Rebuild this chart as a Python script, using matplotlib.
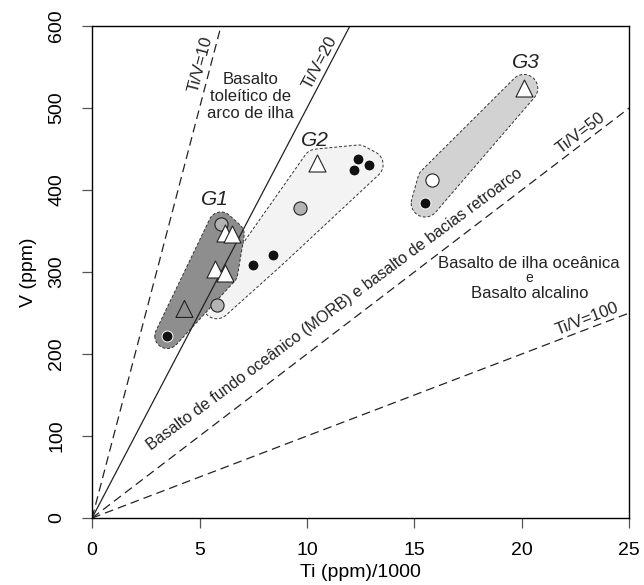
import numpy as np
import matplotlib
matplotlib.use("Agg")
import matplotlib.pyplot as plt
from matplotlib.patches import Polygon

plt.rcParams['font.family'] = ['Liberation Sans', 'DejaVu Sans']

# samples: Ti (ppm)/1000, V (ppm), symbol kind and group
ti = [3.5, 4.3, 5.7, 6.2, 6.2, 6.5, 6.0,
      5.8, 7.5, 8.4, 9.7, 10.45, 12.2, 12.4, 12.9,
      15.5, 15.8, 20.1]
v = [222, 255, 304, 299, 348, 346, 358,
     260, 309, 321, 378, 433, 425, 438, 431,
     384, 412, 524]
kind = ['black', 'open_tri', 'tri', 'tri', 'tri', 'tri', 'gray',
        'gray', 'black', 'black', 'gray', 'tri', 'black', 'black', 'black',
        'black', 'white', 'tri']
group = ['G1'] * 7 + ['G2'] * 8 + ['G3'] * 3

# Ti/V discriminant lines and where their labels sit (Ti along the line)
ratios = [10, 20, 50, 100]
ratio_label_ti = [5.5, 11.0, 23.0, 23.2]

group_names = ['G1', 'G2', 'G3']
group_label_ti = [5.7, 10.35, 20.2]
group_label_v = [388, 460, 555]

# styles
marker_style = {
    'black': dict(marker='o', s=62, facecolor='#111111', edgecolor='white', linewidth=0.7),
    'gray': dict(marker='o', s=90, facecolor='#b3b3b3', edgecolor='#222222', linewidth=0.8),
    'white': dict(marker='o', s=90, facecolor='white', edgecolor='#222222', linewidth=0.8),
    'tri': dict(marker='^', s=150, facecolor='white', edgecolor='#222222', linewidth=0.8),
    'open_tri': dict(marker='^', s=150, facecolor='none', edgecolor='#222222', linewidth=0.8),
}
group_fill = {'G1': '#8e8e8e', 'G2': '#f3f3f3', 'G3': '#d2d2d2'}
group_pad = {'G1': 9, 'G2': 10, 'G3': 10}   # points


def convex_hull(points):
    """Monotone chain hull of a 2D point cloud"""
    pts = sorted(map(tuple, points))

    def cross(o, a, b):
        return (a[0] - o[0]) * (b[1] - o[1]) - (a[1] - o[1]) * (b[0] - o[0])

    lower = []
    for p in pts:
        while len(lower) >= 2 and cross(lower[-2], lower[-1], p) <= 0:
            lower.pop()
        lower.append(p)
    upper = []
    for p in reversed(pts):
        while len(upper) >= 2 and cross(upper[-2], upper[-1], p) <= 0:
            upper.pop()
        upper.append(p)
    return np.array(lower[:-1] + upper[:-1])


def envelope(ax, x, y, pad_pt):
    """Rounded outline around a group of points, padded in screen space"""
    pad_px = pad_pt * ax.figure.dpi / 72
    pts = ax.transData.transform(np.column_stack([x, y]))
    ang = np.linspace(0, 2 * np.pi, 60, endpoint=False)
    ring = np.column_stack([np.cos(ang), np.sin(ang)]) * pad_px
    cloud = (pts[:, None, :] + ring[None, :, :]).reshape(-1, 2)
    return ax.transData.inverted().transform(convex_hull(cloud))


def screen_angle(ax, slope):
    """Angle on screen of a line with the given data slope"""
    p0, p1 = ax.transData.transform([(0, 0), (1, slope)])
    return np.degrees(np.arctan2(p1[1] - p0[1], p1[0] - p0[0]))


fig = plt.figure(figsize=(6.44, 5.85), dpi=100)
ax = fig.add_axes([0.143, 0.1145, 0.834, 0.841])
ax.set_xlim(0, 25)
ax.set_ylim(0, 600)

ti_arr = np.array(ti)
v_arr = np.array(v)
grp_arr = np.array(group)

# group envelopes
for name in ['G2', 'G1', 'G3']:
    sel = grp_arr == name
    poly = envelope(ax, ti_arr[sel], v_arr[sel], group_pad[name])
    ax.add_patch(Polygon(poly, closed=True, facecolor=group_fill[name],
                         edgecolor='#333333', linewidth=0.7,
                         linestyle=(0, (3, 2)), zorder=1))

# Ti/V lines
for r, lab_ti in zip(ratios, ratio_label_ti):
    slope = 1000.0 / r
    ls = '-' if r == 20 else (0, (7, 4))
    ax.plot([0, 25], [0, 25 * slope], color='#222222', linewidth=0.9,
            linestyle=ls, zorder=2)
    ang = screen_angle(ax, slope)
    nx, ny = -np.sin(np.radians(ang)), np.cos(np.radians(ang))
    ax.annotate('Ti/V=%d' % r, xy=(lab_ti, lab_ti * slope),
                xytext=(nx * 7, ny * 7), textcoords='offset points',
                rotation=ang, rotation_mode='anchor', ha='center', va='center',
                fontsize=12, color='#222222', zorder=3)

# samples
kind_arr = np.array(kind)
for k, style in marker_style.items():
    sel = kind_arr == k
    ax.scatter(ti_arr[sel], v_arr[sel], zorder=4, **style)

# group names
for name, gx, gy in zip(group_names, group_label_ti, group_label_v):
    ax.text(gx, gy, name, fontsize=15, style='italic', ha='center',
            va='center', color='#222222')

# field names
ax.text(7.36, 514, 'Basalto\ntoleítico de\narco de ilha', fontsize=12,
        ha='center', va='center', linespacing=1.15, color='#222222')
ax.text(20.35, 310, 'Basalto de ilha oceânica', fontsize=12,
        ha='center', va='center', color='#222222')
ax.text(20.35, 293, 'e', fontsize=10, ha='center', va='center', color='#222222')
ax.text(20.35, 274, 'Basalto alcalino', fontsize=12,
        ha='center', va='center', color='#222222')
ax.text(11.3, 254, 'Basalto de fundo oceânico (MORB) e basalto de bacias retroarco',
        fontsize=11.5, rotation=36.5, rotation_mode='anchor',
        ha='center', va='center', color='#222222')

ax.set_xticks(range(0, 26, 5))
ax.set_yticks(range(0, 601, 100))
ax.tick_params(direction='out', length=7, width=0.9, color='#555555',
               labelsize=14)
ax.tick_params(axis='x', pad=10)
ax.tick_params(axis='y', labelrotation=90, pad=12.5)
for lab in ax.get_yticklabels():
    lab.set_va('center')
for sp in ax.spines.values():
    sp.set_linewidth(1.0)

ax.set_xlabel('Ti (ppm)/1000', fontsize=14, labelpad=4)
ax.set_ylabel('V (ppm)', fontsize=14, labelpad=8)

fig.savefig('out.png', dpi=100)
